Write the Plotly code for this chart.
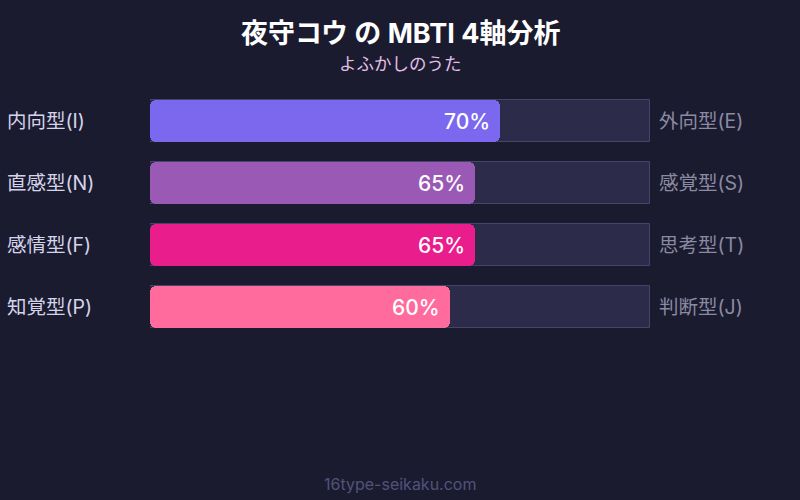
import plotly.graph_objects as go

# MBTI axes for the character
left_labels = ["内向型(I)", "直感型(N)", "感情型(F)", "知覚型(P)"]
right_labels = ["外向型(E)", "感覚型(S)", "思考型(T)", "判断型(J)"]
scores = [70, 65, 65, 60]
bar_colors = ["#7b68ee", "#9b59b6", "#e91e8c", "#ff6b9d"]

title_text = "夜守コウ の MBTI 4軸分析"
subtitle_text = "よふかしのうた"
footer_text = "16type-seikaku.com"

BG = "#1b1b2f"
FONT = "Inter, 'Noto Sans CJK JP', sans-serif"

rows = list(range(len(left_labels)))
top, bottom = 90, 338  # plot area in pixels


def py(pixel_y):
    # pixel row -> paper coordinate
    return (bottom - pixel_y) / (bottom - top)


fig = go.Figure()

# background track, full 100%
fig.add_trace(go.Bar(
    x=[100] * len(rows), y=rows, orientation="h", width=0.68,
    marker=dict(color="#2d2b4a", line=dict(color="#45456a", width=1), cornerradius=0),
    hoverinfo="skip", showlegend=False,
))

# score bars, drawn as two overlapping halves so both ends get rounded
fig.add_trace(go.Bar(
    x=[-s * 0.6 for s in scores], base=[s * 0.6 for s in scores], y=rows,
    orientation="h", width=0.68,
    marker=dict(color=bar_colors, cornerradius=6, line=dict(width=0)),
    hoverinfo="skip", showlegend=False,
))
fig.add_trace(go.Bar(
    x=[s * 0.6 for s in scores], base=[s * 0.4 for s in scores], y=rows,
    orientation="h", width=0.68,
    marker=dict(color=bar_colors, cornerradius=6, line=dict(width=0)),
    hoverinfo="skip", showlegend=False,
))

annotations = []
for i in rows:
    annotations.append(dict(
        x=scores[i], y=i, xref="x", yref="y", text=f"{scores[i]}%",
        xanchor="right", xshift=-8, showarrow=False,
        font=dict(family=FONT, size=21, color="white", weight=500),
    ))
    annotations.append(dict(
        x=-0.291, y=i, xref="paper", yref="y", text=left_labels[i],
        xanchor="left", showarrow=False,
        font=dict(family=FONT, size=19.5, color="#d4d4ea"),
    ))
    annotations.append(dict(
        x=1.014, y=i, xref="paper", yref="y", text=right_labels[i],
        xanchor="left", showarrow=False,
        font=dict(family=FONT, size=19.5, color="#8a8aa2"),
    ))

annotations += [
    dict(x=0.5, y=py(33), xref="paper", yref="paper", text=f"<b>{title_text}</b>",
         showarrow=False, yanchor="middle",
         font=dict(family=FONT, size=27, color="white")),
    dict(x=0.5, y=py(63), xref="paper", yref="paper", text=subtitle_text,
         showarrow=False, yanchor="middle",
         font=dict(family=FONT, size=17.5, color="#e0bfe6")),
    dict(x=0.5, y=py(484), xref="paper", yref="paper", text=footer_text,
         showarrow=False, yanchor="middle",
         font=dict(family=FONT, size=16, color="#52527a")),
]

fig.update_layout(
    width=800, height=500,
    margin=dict(l=150, r=150, t=top, b=500 - bottom),
    paper_bgcolor=BG, plot_bgcolor=BG,
    barmode="overlay", bargap=0,
    xaxis=dict(range=[0, 100], visible=False, fixedrange=True),
    yaxis=dict(range=[3.5, -0.5], visible=False, fixedrange=True),
    annotations=annotations,
    font=dict(family=FONT),
)

fig.write_html("out.html", config={"displayModeBar": False},
               post_script="document.body.style.margin='0';")
